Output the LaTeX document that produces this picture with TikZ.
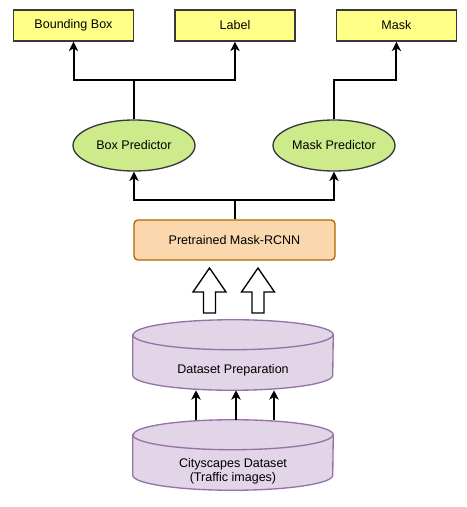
\documentclass[tikz,border=0pt]{standalone}
\usepackage{fontspec}
\setmainfont{Liberation Sans}
\usetikzlibrary{positioning,arrows.meta,calc,backgrounds}
\definecolor{outyellow}{HTML}{FFFF88}
\definecolor{darkline}{HTML}{36393D}
\definecolor{predgreen}{HTML}{CDEB8B}
\definecolor{modelorange}{HTML}{FAD7AC}
\definecolor{modelline}{HTML}{B46504}
\definecolor{datapurple}{HTML}{E1D5E7}
\definecolor{dataline}{HTML}{9673A6}
\tikzset{
  out box/.style={rectangle, draw=darkline, fill=outyellow, line width=1.1pt, minimum width=90pt, minimum height=23.25pt, inner sep=0pt},
  pred node/.style={ellipse, draw=darkline, fill=predgreen, line width=1pt, minimum width=91.5pt, minimum height=38.25pt, inner sep=0pt},
  model box/.style={rectangle, rounded corners=3pt, draw=modelline, fill=modelorange, line width=1pt, minimum width=150.75pt, minimum height=30pt, inner sep=0pt},
  data cyl/.style={rectangle, minimum width=150pt, minimum height=52.5pt, inner sep=0pt},
  cyl line/.style={draw=dataline, fill=datapurple, line width=1pt},
  block arrow/.style={draw=black, fill=white, line width=1pt, line join=miter},
  plain/.style={line width=1.5pt},
  link/.style={line width=1.5pt, -{Stealth[length=7pt, width=7pt, inset=2pt]}}
}
\usetikzlibrary{shapes.geometric}

\begin{document}
\begin{tikzpicture}[x=0.75pt, y=0.75pt, font=\fontsize{9.4}{10.5}\selectfont]
    \useasboundingbox (0,0) rectangle (467,507);
    % The outputs along the top
    \node[out box] (bbox) at (73.5,481.5) {Bounding Box};
    \node[out box] (label) [right=30pt of bbox] {Label};
    \node[out box] (mask) [right=30pt of label] {Mask};

    % The two predictor heads
    \node[pred node] (boxpred) at (134,361.5) {Box Predictor};
    \node[pred node] (maskpred) at (334,361.5) {Mask Predictor};

    % The model
    \node[model box] (mrcnn) at (234.5,267) {Pretrained Mask-RCNN};

    % The datasets, text is set a bit below the top cap
    \node[data cyl, label={[yshift=-11.25pt]center:Dataset Preparation}] (prep) at (233,152) {};
    \node[data cyl, label={[yshift=-12pt, align=center]center:Cityscapes Dataset\\(Traffic images)}] (data) at (233,52) {};

    % Cylinder bodies behind the text
    \begin{scope}[on background layer]
    \foreach \c in {prep,data} {
        \path[cyl line] ($(\c.north west)+(0,-15)$) -- ($(\c.south west)+(0,15)$)
            arc[start angle=180, end angle=360, x radius=100, y radius=15]
            -- ($(\c.north east)+(0,-15)$)
            arc[start angle=0, end angle=180, x radius=100, y radius=15] -- cycle;
        \draw[draw=dataline, line width=1pt] ($(\c.north west)+(0,-15)$)
            arc[start angle=180, end angle=360, x radius=100, y radius=15];
    }
    \end{scope}

    % Block arrows from the prepared data into the model
    \foreach \x in {209.5,258}
        \draw[block arrow] (\x-6,194) -- (\x-6,215) -- (\x-16.5,215) -- (\x,239)
            -- (\x+16.5,215) -- (\x+6,215) -- (\x+6,194) -- cycle;

    % Split points of the connectors
    \coordinate (topsplit) at (134,427);
    \coordinate (masksplit) at (334,427);
    \coordinate (midsplit) at (234.5,307);

    % Draw the connectors
    \draw[link] (boxpred.north) -- (topsplit) -| (bbox.south);
    \draw[link] (topsplit) -| (label.south);
    \draw[link] (maskpred.north) -- (masksplit) -| (mask.south);
    \draw[plain] (mrcnn.north) -- (midsplit);
    \draw[link] (midsplit) -| (boxpred.south);
    \draw[link] (midsplit) -| (maskpred.south);
    \foreach \dx in {-37,3,41}
        \draw[link] ($(data.north)+(\dx,0)$) -- ($(prep.south)+(\dx,0)$);
\end{tikzpicture}
\end{document}
